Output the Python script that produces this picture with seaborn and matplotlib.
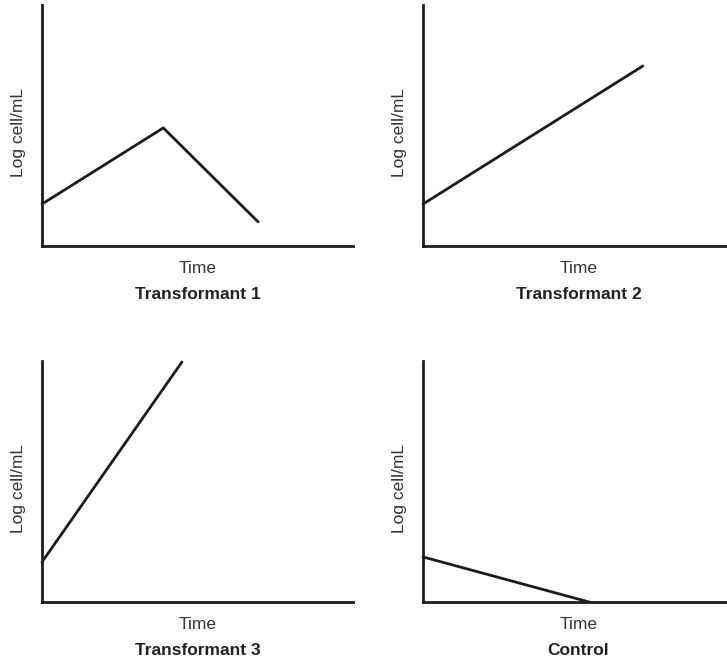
import matplotlib
matplotlib.use('Agg')
import matplotlib.pyplot as plt
import seaborn as sns
import pandas as pd

sns.set_style('white')
plt.rcParams['font.family'] = ['Liberation Sans', 'DejaVu Sans']

# datos (unidades arbitrarias, ejes 0-10)
t1_time = [0, 3.9, 6.95]
t1_log = [1.74, 4.9, 1.0]
t2_time = [0, 7.07]
t2_log = [1.74, 7.47]
t3_time = [0, 4.5]
t3_log = [1.66, 9.96]
ctrl_time = [0, 5.34]
ctrl_log = [1.87, 0.0]

titulos = ['Transformant 1', 'Transformant 2', 'Transformant 3', 'Control']
series = [(t1_time, t1_log), (t2_time, t2_log), (t3_time, t3_log), (ctrl_time, ctrl_log)]

W, H = 727, 669
fig = plt.figure(figsize=(W / 100, H / 100), dpi=100)

# posiciones de los ejes en pixeles: (izq, abajo)
pos = [(42, 246), (423, 246), (42, 602), (423, 602)]
ancho, alto = 311, 241

linea = '#1c1c1c'
texto = '#333333'

for (x0, yb), (tx, ly), titulo in zip(pos, series, titulos):
    ax = fig.add_axes([x0 / W, (H - yb) / H, ancho / W, alto / H])
    df = pd.DataFrame({'Time': tx, 'Log': ly})
    sns.lineplot(data=df, x='Time', y='Log', ax=ax, color=linea, linewidth=2.0,
                 sort=False, clip_on=False)
    ax.set_xlim(0, 10)
    ax.set_ylim(0, 10)
    ax.set_xticks([])
    ax.set_yticks([])
    for s in ['top', 'right']:
        ax.spines[s].set_visible(False)
    for s in ['left', 'bottom']:
        ax.spines[s].set_linewidth(2.0)
        ax.spines[s].set_color(linea)
    ax.set_xlabel('Time', fontsize=12.5, color=texto, va='center')
    ax.xaxis.set_label_coords(0.5, -0.092)
    ax.set_ylabel('Log cell/mL', fontsize=12.5, color=texto, va='center', ha='center')
    ax.yaxis.set_label_coords(-0.077, 0.47)
    ax.text(0.5, -0.2, titulo, transform=ax.transAxes, ha='center', va='center',
            fontsize=12.5, fontweight='bold', color='#222222')

plt.savefig('out.png', dpi=100)
